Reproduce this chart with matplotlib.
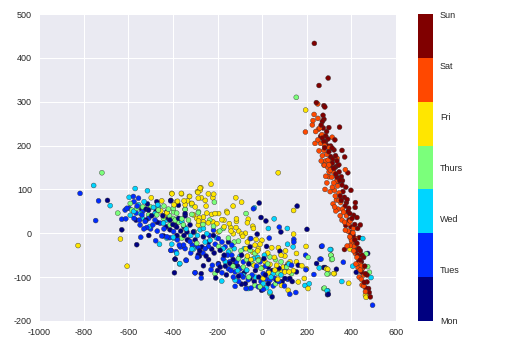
import numpy as np
import matplotlib
matplotlib.use("Agg")
from matplotlib import pyplot as plt

day_names = ["Mon", "Tues", "Wed", "Thurs", "Fri", "Sat", "Sun"]
x_ticks = [-1000, -800, -600, -400, -200, 0, 200, 400, 600]
y_ticks = [-200, -100, 0, 100, 200, 300, 400, 500]

# values, one list per day
mon = [(-693,75),(-629,8),(-508,-5),(-562,-26),(-390,-59),(-393,-90),(-472,72),(-514,67),(-410,74),(-565,30),
       (-420,34),(-413,8),(-383,14),(-350,15),(-323,19),(-286,-49),(-413,30),(-442,-6),(-427,49),(-509,53),
       (-345,40),(-375,34),(-13,69),(157,62),(-5,36),(17,28),(84,3),(-22,-2),(201,9),(20,-30),
       (-54,-31),(266,-30),(244,-69),(276,-78),(293,-140),(45,-145),(-273,-92),(-208,-102),(-263,-74),(-281,-52),
       (-251,-52),(-196,-69),(-226,-36),(-188,-39),(-375,64),(-409,75),(-345,45),(-390,18),(-337,3),(-382,-5),
       (-390,-59),(-308,3),(-270,-31),(-144,-69),(-188,-77),(-92,-116),(-54,-103),(-106,-98),(-2,-130),(80,-41),
       (8,-58),(28,-77),(162,-73),(154,-88),(124,-103),(28,-115),(65,-107),(102,-103),(-92,-50),(-151,-20),
       (-218,-5),(-263,-8),(473,-46),(422,-89),(282,-78),(333,-82),(297,-139),
       (-540,55),(-520,30),(-495,40),(-470,25),(-445,40),(-430,15),(-400,20),(-365,5),(-335,-15),(-300,-15),
       (-280,-40),(-240,-20),(-215,-45),(-170,-50),(-165,-75),(-130,-60),(-110,-75),(-80,-90),(-60,-70),(-30,-85),
       (-15,-100),(15,-95),(45,-85),(75,-80),(90,-110),(110,-75),(135,-110),(-35,-110),(-120,-70),(-200,-85),
       (-160,-95),(-75,-115),(-520,55),(-475,50),(-350,-5),(-240,-60)]
tues = [(-816,91),(-733,74),(-746,29),(-544,-9),(-477,-17),(-408,-39),(-341,-61),(-301,-90),(-577,84),(-554,80),
        (-574,72),(-596,57),(-606,57),(-614,53),(-629,32),(-611,33),(-565,46),(-574,34),(-539,42),(-509,34),
        (-524,27),(-547,19),(-517,13),(-490,19),(-457,23),(-450,-6),(-427,-8),(-397,4),(-371,-27),(-360,-30),
        (-386,-42),(-323,-19),(-293,-30),(-313,-27),(-39,56),(77,14),(142,-14),(142,-20),(32,-11),(-51,-12),
        (259,-59),(232,-94),(196,-83),(-300,-90),(-273,-102),(-229,-83),(-223,-73),(-340,-62),(-409,-39),(-367,-31),
        (-352,-27),(-330,-16),(-285,-33),(-255,-35),(-218,7),(-236,-5),(-196,-12),(-166,-31),(-136,-27),(-136,-50),
        (-174,-58),(-196,-71),(-151,-81),(-121,-88),(-129,-100),(-121,-121),(-72,-126),(-62,-106),(-99,-81),(-84,-65),
        (-9,-65),(5,-92),(35,-107),(57,-103),(28,-88),(124,-139),(151,-135),(5,-128),(-17,-122),(102,-84),
        (132,-73),(195,-50),(495,-164),(269,-29),(264,-59),(364,-66),
        (-560,62),(-535,50),(-550,30),(-500,10),(-480,30),(-470,5),(-440,10),(-415,-10),(-380,-15),(-345,-35),
        (-320,-45),(-290,-55),(-265,-45),(-240,-30),(-210,-25),(-180,-20),(-155,-50),(-145,-65),(-115,-65),(-95,-95),
        (-70,-85),(-45,-95),(-25,-75),(-5,-110),(20,-105),(50,-120),(75,-110),(100,-120),(115,-105),(-105,-110),
        (-140,-85),(-180,-90),(-85,-100),(-50,-125),(15,-75),(-530,10)]
wed = [(-755,109),(-681,63),(-460,-25),(-369,-69),(-569,102),(-514,97),(-596,82),(-529,72),(-554,65),(-487,59),
       (-468,65),(-591,41),(-536,34),(-442,23),(-360,27),(-308,-36),(-398,-9),(-427,-11),(-383,-46),(-465,61),
       (-35,58),(54,33),(28,11),(113,11),(114,-25),(139,-31),(305,-37),(256,-79),(211,-115),(291,-131),
       (-370,-70),(-181,-109),(-121,-107),(-278,8),(-263,11),(-248,-1),(-233,-16),(-315,-36),(-382,-8),(-397,-11),
       (-151,-43),(-99,-52),(-84,-96),(-69,-84),(-62,-126),(20,-124),(35,-134),(192,-119),(50,-92),(-39,-58),
       (451,-12),(406,-75),(488,-101),(308,-37),(357,-110),(294,-131),
       (-575,50),(-545,45),(-505,15),(-480,45),(-430,30),(-405,-25),(-340,10),(-320,-5),(-290,-5),(-255,-20),
       (-205,-10),(-175,-35),(-125,-35),(-80,-35),(-60,-60),(-20,-55),(10,-50),(-110,-85),(-30,-100),(5,-115),
       (40,-100),(85,-95),(120,-70),(-165,-65)]
thurs = [(-718,138),(-647,46),(-591,68),(-584,53),(-562,57),(-509,42),(-465,53),(-420,55),(-398,57),(-383,46),
         (-345,55),(-316,65),(-286,47),(-442,34),(-398,34),(-353,19),(-305,4),(-360,-11),(-293,-23),(-413,19),
         (-472,42),(-72,45),(-214,71),(-345,54),(-315,43),(-285,49),(-360,33),(-397,49),(-390,30),(-345,11),
         (-305,3),(-218,16),(-174,11),(-106,-18),(-151,-11),(-144,-39),(-106,-58),(-54,-39),(-32,-46),(-17,-62),
         (35,-54),(110,-77),(206,-55),(311,-60),(308,-50),(291,-93),(276,-126),(-32,-119),(-10,-122),(-211,-92),
         (35,-137),(72,-92),(132,-92),(-84,-77),(153,310),(466,-47),(473,-76),(481,-89),(315,-59),(297,-92),(279,-125),
         (-535,60),(-500,60),(-440,62),(-415,40),(-375,25),(-330,30),(-265,20),(-235,30),(-190,5),(-125,-20),
         (-95,-40),(-70,-60),(-45,-70),(-5,-80),(25,-70),(60,-60),(85,-65),(-60,-100),(10,-125),(-130,-75),
         (60,-115),(-195,-30)]
fri = [(-825,-28),(-635,-13),(-605,-75),(-497,81),(-405,91),(-362,91),(-326,84),(-290,95),(-278,103),(-450,74),
       (-383,72),(-350,74),(-316,68),(-454,51),(-427,47),(-293,34),(-286,19),(-308,42),(-286,80),(-229,112),
       (-275,104),(-278,98),(-288,93),(-273,81),(-241,90),(-217,89),(-221,81),(-325,84),(-361,90),(-404,90),
       (-379,73),(-334,74),(-315,68),(-251,62),(-130,62),(-118,81),(-92,71),(-159,50),(-156,47),(-248,46),
       (-226,43),(-211,45),(-263,37),(-281,35),(-285,28),(-263,26),(-241,24),(-221,26),(-203,22),(-181,31),
       (-171,30),(-147,22),(-115,33),(-115,27),(-62,32),(-66,24),(-42,16),(-39,11),(-141,13),(-117,13),
       (-139,5),(-129,-1),(-92,-2),(-87,-7),(-196,3),(-54,-12),(-27,-14),(-1,-16),(-9,-25),(-32,-27),
       (-66,-20),(-72,-35),(-42,-43),(-17,-36),(43,-33),(73,-33),(105,-40),(102,-52),(154,-46),(141,-2),
       (141,52),(72,138),(197,-30),(125,-65),(154,-65),(178,-74),(199,-81),(57,-84),(79,-87),(102,-88),
       (121,-88),(2,-78),(-36,-73),(-66,-52),(13,-65),(35,-71),(65,-73),(95,-77),(5,-103),(87,-119),
       (117,-130),(206,-126),(162,-111),(189,-103),(321,-92),(288,-81),(195,281),(393,-36),(463,-141),(466,-146),
       (309,-50),(294,-82),(324,-92),(388,-114),
       (-440,40),(-395,65),(-345,65),(-300,60),(-255,75),(-195,45),(-170,15),(-105,5),(-75,0),(-20,-40),
       (25,-45),(55,-55),(85,-50),(115,-70),(140,-85),(45,-100),(70,-105),(-50,-60),(-15,-60),(30,-90)]
sat = [(249,295),(233,271),(250,262),(228,257),(225,247),(194,231),(252,237),(237,205),(250,213),(255,188),
       (277,189),(270,177),(296,167),(336,171),(277,156),(373,145),(299,156),(314,219),(279,155),(306,144),
       (299,129),(282,100),(321,115),(324,98),(328,85),(333,76),(318,67),(330,51),(358,30),(388,22),
       (373,7),(410,11),(407,1),(393,-8),(418,-12),(381,-29),(418,-46),(437,-69),(440,-84),(455,-95),
       (448,-118),(463,-133),(262,205),(290,180),(285,165),(300,140),(312,128),(290,115),(338,108),(345,92),
       (352,70),(340,55),(365,48),(378,40),(395,28),(402,-20),(412,-30),(425,-55),(430,-78),(445,-105),
       (258,240),(268,225),(240,232),(280,200),(265,165),(295,150),(305,165),(285,130),(315,105),(305,95),
       (335,120),(325,60),(345,75),(360,55),(350,40),(370,25),(385,5),(400,-15),(395,-28),(410,-40),
       (420,-25),(430,-35),(420,-70),(435,-55),(445,-75),(435,-100),(450,-80),(455,-120),(300,195),(320,140)]
sun = [(234,433),(296,354),(255,337),(243,298),(277,291),(281,288),(347,242),(299,241),(273,269),(277,260),
       (270,255),(265,247),(274,240),(289,232),(326,213),(270,217),(284,209),(307,199),(314,194),(299,186),
       (358,189),(370,174),(329,177),(307,175),(344,156),(307,152),(329,151),(277,209),(262,221),(339,155),
       (321,148),(384,138),(355,129),(348,121),(358,110),(398,98),(369,82),(381,77),(418,70),(417,59),
       (388,57),(393,45),(410,41),(425,36),(403,34),(440,19),(428,11),(396,-9),(425,-23),(433,-35),
       (369,-37),(448,-50),(440,-61),(452,-76),(463,-92),(470,-111),(477,-126),(485,-145),(290,200),(318,170),
       (330,135),(342,118),(362,95),(350,85),(372,62),(385,50),(398,15),(408,-5),(420,-40),(432,-65),
       (445,-88),(458,-112),(285,222),(295,215),(280,195),(322,190),(335,165),(315,160),(345,140),(335,128),
       (360,120),(375,105),(355,75),(378,70),(390,30),(375,18),(395,2),(415,20),(435,-10),(415,-15),
       (440,-40),(445,-65),(455,-55),(460,-75),(470,-95),(465,-125),(480,-135),(430,-50)]
days = [mon, tues, wed, thurs, fri, sat, sun]

plt.rcParams['font.family'] = ['Liberation Sans', 'DejaVu Sans']
plt.rcParams['axes.unicode_minus'] = False

pts = np.array([p for d in days for p in d], dtype=float)
codes = np.array([i for i, d in enumerate(days) for p in d])
# points were plotted in date order, so mix the days up
order = np.argsort(np.arange(len(pts)) * 37 % 101, kind="stable")

fig = plt.figure(figsize=(512 / 72, 354 / 72), dpi=72)
ax = fig.add_axes([39 / 512, 33 / 354, 357 / 512, 307 / 354], facecolor="#EAEAF2")
sc = ax.scatter(pts[order, 0], pts[order, 1], c=codes[order], cmap=plt.get_cmap("jet", 7),
                vmin=0, vmax=6, s=24, edgecolors="#333333", linewidths=0.4, zorder=3)

ax.set_xlim(-1000, 600)
ax.set_ylim(-200, 500)
ax.set_xticks(x_ticks)
ax.set_yticks(y_ticks)
ax.grid(True, color="white", linewidth=1)
ax.set_axisbelow(True)
ax.tick_params(length=0, labelsize=9, labelcolor="#262626", pad=7)
for s in ax.spines.values():
    s.set_visible(False)

cax = fig.add_axes([418 / 512, 33 / 354, 15 / 512, 307 / 354])
cb = fig.colorbar(sc, cax=cax, ticks=range(7))
cb.ax.set_yticklabels(day_names)
cb.ax.tick_params(length=0, labelsize=9, labelcolor="#262626", pad=7)
cb.outline.set_visible(False)

fig.savefig("out.png", dpi=72)
